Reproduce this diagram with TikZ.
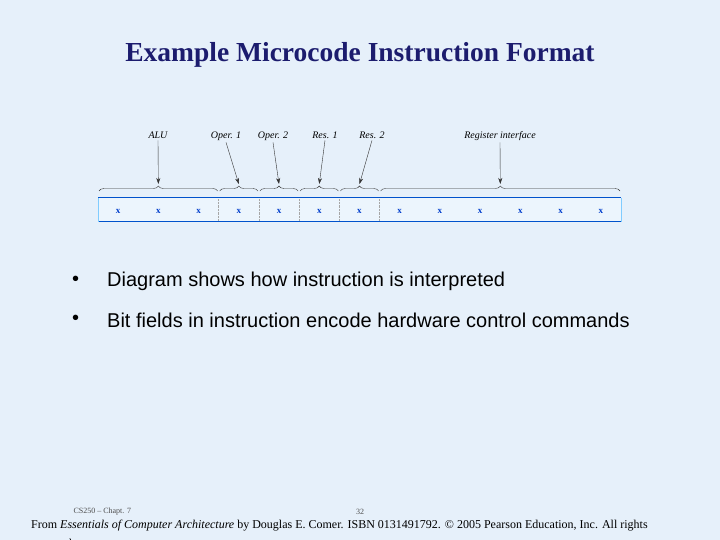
\documentclass[tikz,border=0pt]{standalone}
\usepackage{fontspec}
\setmainfont{Liberation Serif}
\newfontfamily\bulfont{Liberation Sans}
\usetikzlibrary{decorations.pathreplacing,arrows.meta}
\begin{document}
\begin{tikzpicture}[x=1pt,y=-1pt,
  lab/.style={font=\fontsize{10}{11}\selectfont\itshape, inner sep=1pt, anchor=base},
  bit/.style={font=\fontsize{9}{10}\selectfont\bfseries, text=blue!70!cyan!80!black},
  br/.style={decorate, decoration={brace, amplitude=5pt}, draw=black!80, thin},
  arr/.style={-{Stealth[length=6pt,width=4pt]}, black!80, thin},
  sep/.style={densely dotted, draw=gray!70},
  bul/.style={font=\bulfont\fontsize{20}{22}\selectfont, anchor=west, inner sep=0pt}]
\fill[fill={rgb,255:red,230;green,240;blue,250}] (0,0) rectangle (720,540);
\useasboundingbox (0,0) rectangle (720,540);
\node[font=\fontsize{27.5}{30}\selectfont\bfseries, text={rgb,255:red,28;green,28;blue,110}] (title) at (360,55) {Example Microcode Instruction Format};
% box
\fill[fill={rgb,255:red,236;green,245;blue,253}] (98,198) rectangle (621,222);
\draw[blue!60!cyan!80!black, line width=1pt] (98,198) -- (621,198) (98,222) -- (621,222);
\draw[blue!40!cyan!50, line width=0.3pt] (98,198) -- (98,222) (621,198) -- (621,222);
\foreach \i in {3,4,5,6,7} \draw[sep] ({98+\i*40.23},199) -- ({98+\i*40.23},221);
\foreach \i in {0,...,12} \node[bit] (b\i) at ({118.1+\i*40.23},211) {x};
% braces
\foreach \a/\b/\n in {98/218.7/t1, 218.7/258.9/t2, 258.9/299.1/t3, 299.1/339.4/t4, 339.4/379.6/t5, 379.6/621/t6}{
  \draw[br] (\a+1,191) -- (\b-1,191);
  \coordinate (\n) at ({(\a+\b)/2},184);
}
\node[lab] (l1) at (158,139) {ALU};
\node[lab] (l2) at (226,139) {Oper. 1};
\node[lab] (l3) at (273,139) {Oper. 2};
\node[lab] (l4) at (325,139) {Res. 1};
\node[lab] (l5) at (372,139) {Res. 2};
\node[lab] (l6) at (500,139) {Register interface};
\foreach \i in {1,...,6} \draw[arr] (l\i.south) -- (t\i);
% bullets
\node[bul] (d1) at (72,281) {•};
\node[bul] (x1) at (107,281) {Diagram shows how instruction is interpreted};
\node[bul] (d2) at (72,320) {•};
\node[bul] (x2) at (107,320) {Bit fields in instruction encode hardware control commands};
% footer
\node[font=\fontsize{8}{9}\selectfont, text=black!70, anchor=west] (f1) at (70,512) {CS250 -- Chapt. 7};
\node[font=\fontsize{8}{9}\selectfont, text=black!70] (f2) at (360,512) {32};
\node[font=\fontsize{12}{13}\selectfont, anchor=west, inner sep=0pt] (f3) at (31,526) {From \textit{Essentials of Computer Architecture} by Douglas E. Comer. ISBN 0131491792. © 2005 Pearson Education, Inc. All rights};
\node[font=\fontsize{12}{13}\selectfont, anchor=west, inner sep=0pt] (f4) at (31,543) {reserved.};
\end{tikzpicture}
\end{document}
